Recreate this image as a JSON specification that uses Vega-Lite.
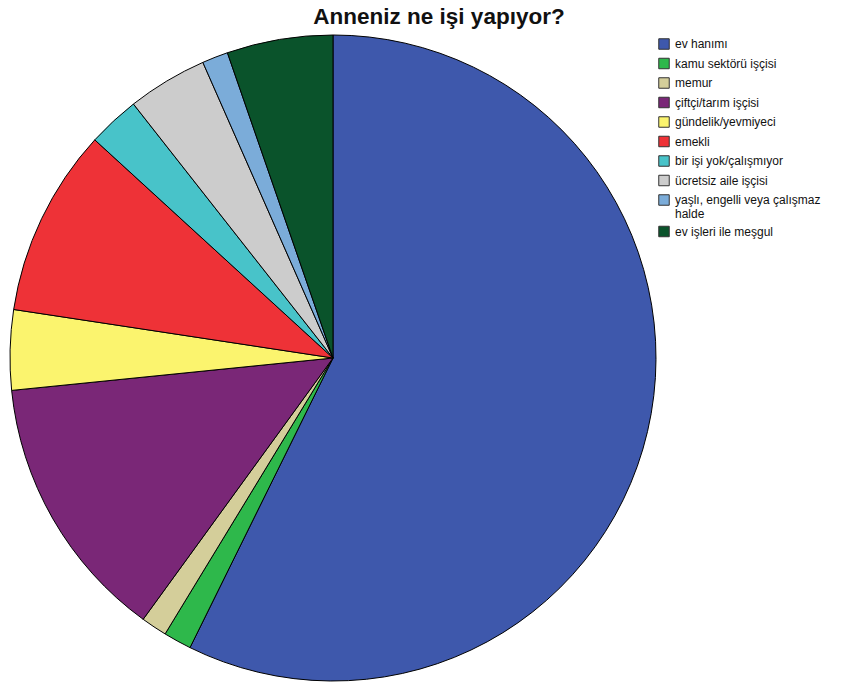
{
  "$schema": "https://vega.github.io/schema/vega-lite/v6.json",
  "width": 646,
  "height": 646,
  "autosize": "none",
  "padding": {"left": 10, "top": 35, "right": 205, "bottom": 1},
  "background": "white",
  "title": {
    "text": "Anneniz ne işi yapıyor?",
    "font": "Liberation Sans",
    "fontSize": 22.5,
    "fontWeight": "bold",
    "color": "#111111",
    "anchor": "middle",
    "dx": 106,
    "offset": 5
  },
  "data": {
    "values": [
      {"meslek": "ev hanımı", "yuzde": 57.3, "sira": 1},
      {"meslek": "kamu sektörü işçisi", "yuzde": 1.4, "sira": 2},
      {"meslek": "memur", "yuzde": 1.3, "sira": 3},
      {"meslek": "çiftçi/tarım işçisi", "yuzde": 13.4, "sira": 4},
      {"meslek": "gündelik/yevmiyeci", "yuzde": 4.0, "sira": 5},
      {"meslek": "emekli", "yuzde": 9.4, "sira": 6},
      {"meslek": "bir işi yok/çalışmıyor", "yuzde": 2.6, "sira": 7},
      {"meslek": "ücretsiz aile işçisi", "yuzde": 4.0, "sira": 8},
      {"meslek": "yaşlı, engelli veya çalışmaz halde", "yuzde": 1.3, "sira": 9},
      {"meslek": "ev işleri ile meşgul", "yuzde": 5.3, "sira": 10}
    ]
  },
  "mark": {"type": "arc", "outerRadius": 323, "stroke": "#000000", "strokeWidth": 1},
  "encoding": {
    "theta": {"field": "yuzde", "type": "quantitative", "stack": true},
    "order": {"field": "sira", "type": "quantitative"},
    "color": {
      "field": "meslek",
      "type": "nominal",
      "scale": {
        "domain": ["ev hanımı", "kamu sektörü işçisi", "memur", "çiftçi/tarım işçisi", "gündelik/yevmiyeci", "emekli", "bir işi yok/çalışmıyor", "ücretsiz aile işçisi", "yaşlı, engelli veya çalışmaz halde", "ev işleri ile meşgul"],
        "range": ["#3E58AC", "#2EB84B", "#D4CE9A", "#7A2777", "#FBF46E", "#EE3237", "#48C3C9", "#CCCCCC", "#7BACD9", "#0A532B"]
      },
      "legend": {
        "title": null,
        "orient": "none",
        "legendX": 648,
        "legendY": 3,
        "symbolType": "square",
        "symbolSize": 110,
        "symbolStrokeColor": "#333333",
        "symbolStrokeWidth": 1,
        "labelFont": "Liberation Sans",
        "labelFontSize": 12,
        "labelColor": "#111111",
        "labelLimit": 300,
        "labelOffset": 5,
        "rowPadding": 3.5,
        "labelExpr": "datum.label == 'yaşlı, engelli veya çalışmaz halde' ? ['yaşlı, engelli veya çalışmaz', 'halde'] : datum.label"
      }
    }
  },
  "config": {"view": {"stroke": null}}
}
